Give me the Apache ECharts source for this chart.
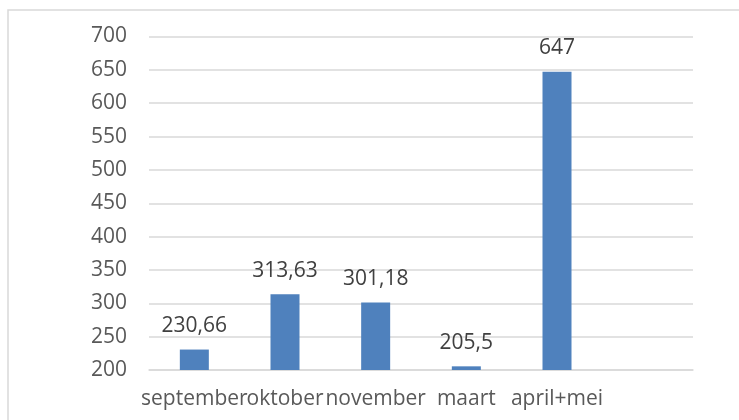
<!DOCTYPE html>
<html>
<head>
<meta charset="utf-8">
<script src="https://cdn.jsdelivr.net/npm/echarts@6/dist/echarts.min.js"></script>
<style>
  html, body { margin: 0; padding: 0; background: #ffffff; }
  #chart { width: 739px; height: 420px; }
</style>
</head>
<body>
<div id="chart"></div>
<script>
const categories = ['september', 'oktober', 'november', 'maart', 'april+mei', ''];
const values = [230.66, 313.63, 301.18, 205.5, 647, null];
const yTicks = { min: 200, max: 700, interval: 50 };

const FONT = "'Open Sans', 'Noto Sans', sans-serif";
const TEXT = '#595959';

const chart = echarts.init(document.getElementById('chart'), null, { renderer: 'canvas' });
chart.setOption({
  animation: false,
  backgroundColor: '#ffffff',
  graphic: [{
    type: 'rect',
    shape: { x: 8, y: 10, width: 760, height: 440 },
    style: { fill: 'none', stroke: '#d9d9d9', lineWidth: 1.5 },
    silent: true, z: -1
  }],
  grid: { left: 149, right: 46, top: 36.5, bottom: 50, containLabel: false },
  xAxis: {
    type: 'category',
    data: categories,
    axisLine: { show: true, lineStyle: { color: '#d9d9d9', width: 1.5 } },
    axisTick: { show: false },
    axisLabel: { color: TEXT, fontFamily: FONT, fontSize: 21, margin: 19, interval: 0 }
  },
  yAxis: {
    type: 'value',
    min: yTicks.min, max: yTicks.max, interval: yTicks.interval,
    axisLine: { show: false },
    axisTick: { show: false },
    splitLine: { lineStyle: { color: '#d9d9d9', width: 1.5 } },
    axisLabel: { color: TEXT, fontFamily: FONT, fontSize: 21, margin: 22 }
  },
  series: [{
    type: 'bar',
    data: values,
    barWidth: 29,
    itemStyle: { color: '#4f81bd' },
    label: {
      show: true,
      position: 'top',
      distance: 13,
      color: '#404040',
      fontFamily: FONT,
      fontSize: 21,
      formatter: p => (p.value == null ? '' : String(p.value).replace('.', ','))
    }
  }]
});
</script>
</body>
</html>
